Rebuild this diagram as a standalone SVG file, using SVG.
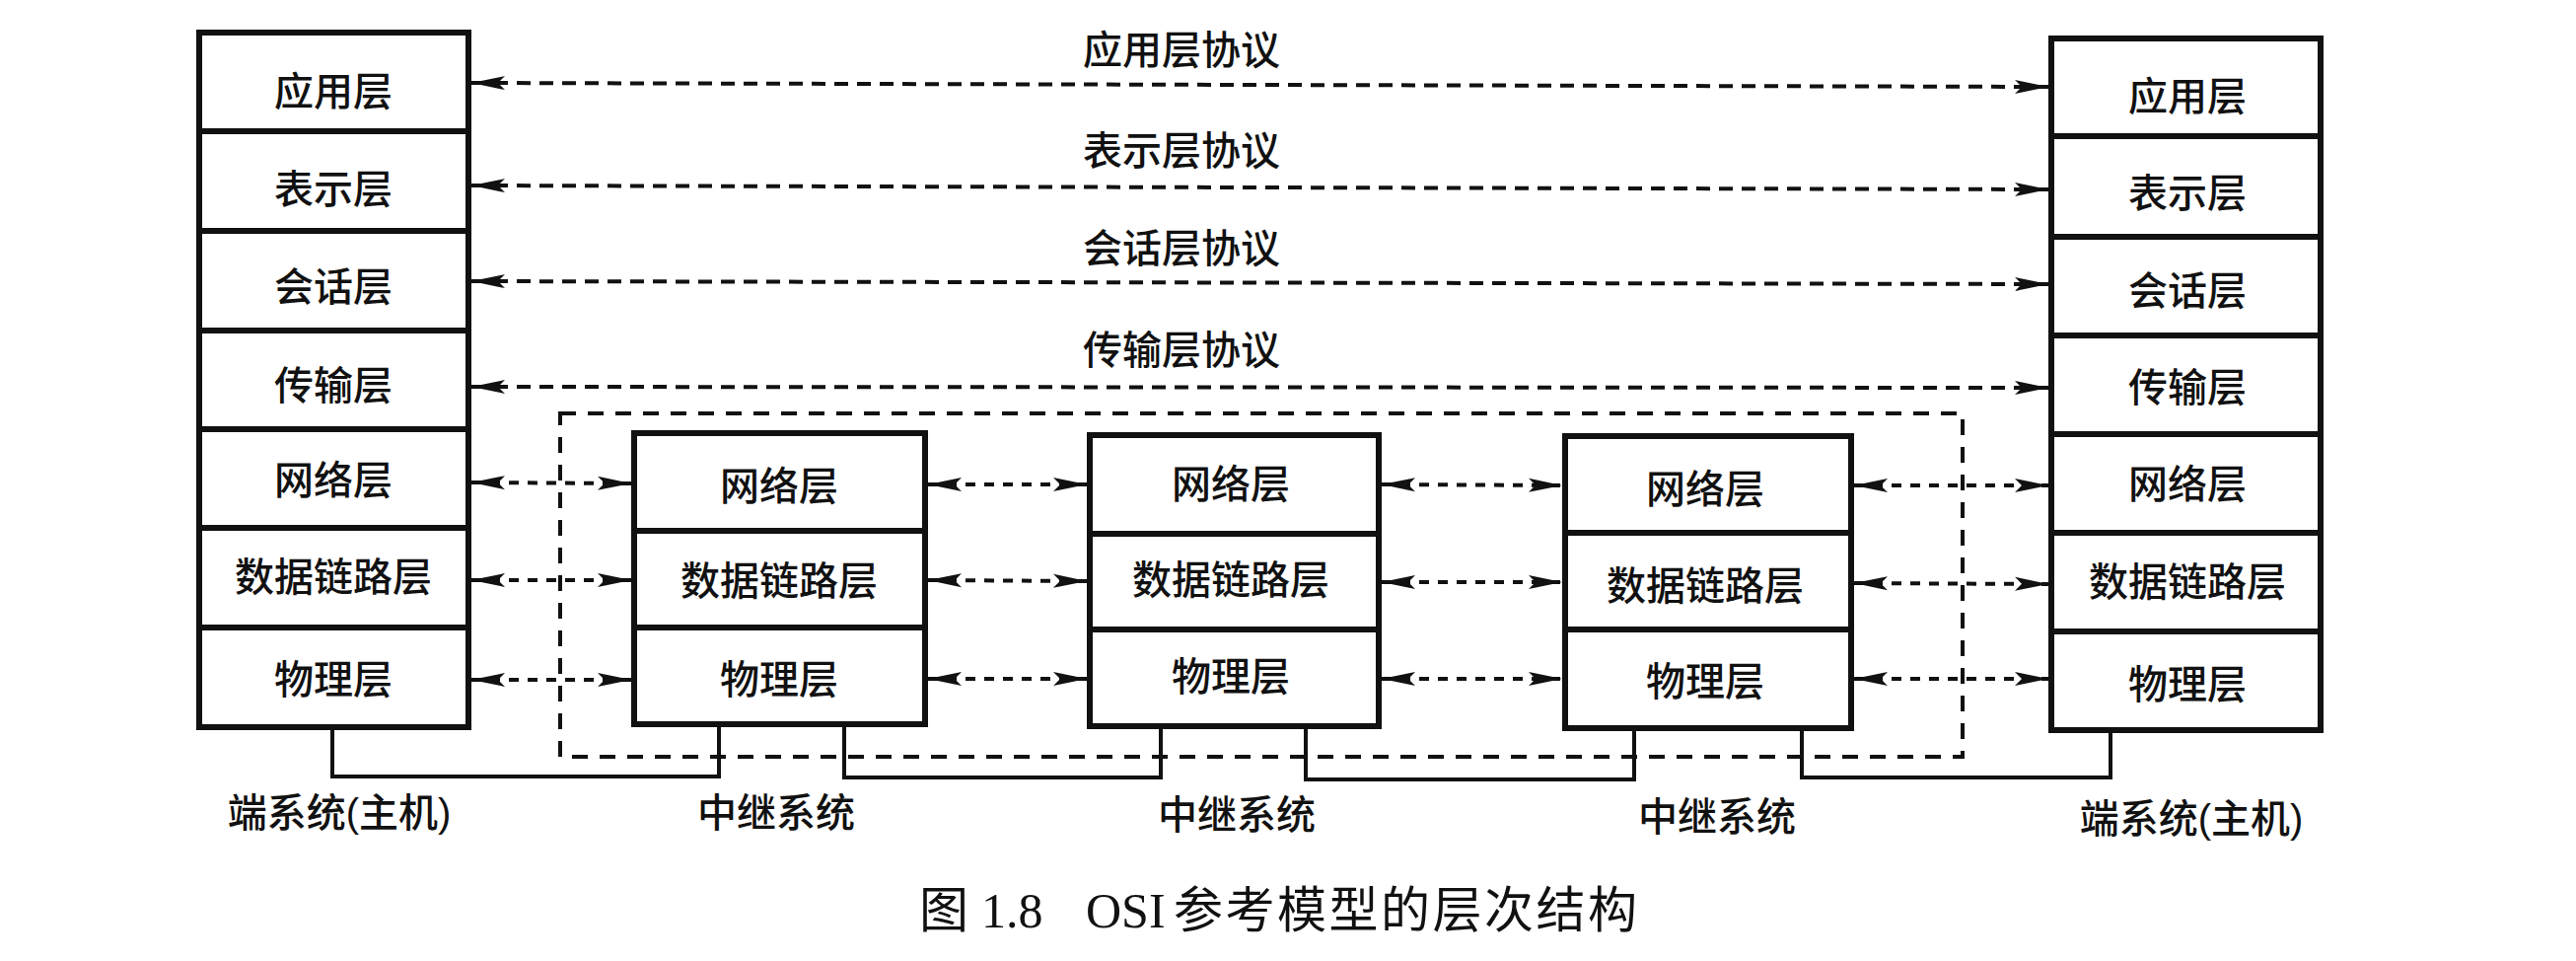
<svg xmlns="http://www.w3.org/2000/svg" width="2612" height="974" viewBox="0 0 2612 974">
<style>
.box{fill:#fff;stroke:#111;stroke-width:6}
.div{stroke:#111;stroke-width:6}
.t{font-family:"Liberation Sans","Noto Sans CJK SC",sans-serif;font-size:40px;font-weight:500;fill:#111;text-anchor:middle}
.proto{fill:none;stroke:#111;stroke-width:4;stroke-dasharray:14 9}
.layer{fill:none;stroke:#111;stroke-width:4;stroke-dasharray:10 9}
.wire{fill:none;stroke:#111;stroke-width:4}
.bound{fill:none;stroke:#111;stroke-width:4;stroke-dasharray:16 12}
.cap{font-size:50px;fill:#111}
</style>
<defs>
<marker id="ah" viewBox="0 0 34 16" refX="34" refY="8" markerWidth="34" markerHeight="16" markerUnits="userSpaceOnUse" orient="auto-start-reverse">
<path d="M0,1 L34,8 L0,15 L7,8 Z" fill="#111"/>
</marker>
</defs>
<rect width="2612" height="974" fill="#fff"/>

<g id="relay-boundary">
<rect class="bound" x="568" y="419" width="1422" height="348"/>
</g>

<g id="connectors">
<g id="protocol-arrows">
<line class="proto" x1="478" y1="84" x2="2077" y2="88" marker-start="url(#ah)" marker-end="url(#ah)"/>
<line class="proto" x1="478" y1="188" x2="2077" y2="192" marker-start="url(#ah)" marker-end="url(#ah)"/>
<line class="proto" x1="478" y1="285" x2="2077" y2="288" marker-start="url(#ah)" marker-end="url(#ah)"/>
<line class="proto" x1="478" y1="392" x2="2077" y2="393" marker-start="url(#ah)" marker-end="url(#ah)"/>
</g>
<g id="layer-arrows">
<line class="layer" x1="478" y1="489" x2="640" y2="490" marker-start="url(#ah)" marker-end="url(#ah)"/>
<line class="layer" x1="941" y1="491" x2="1102" y2="491" marker-start="url(#ah)" marker-end="url(#ah)"/>
<line class="layer" x1="1401" y1="491" x2="1584" y2="492" marker-start="url(#ah)" marker-end="url(#ah)"/>
<line class="layer" x1="1880" y1="492" x2="2077" y2="492" marker-start="url(#ah)" marker-end="url(#ah)"/>
<line class="layer" x1="478" y1="588" x2="640" y2="588" marker-start="url(#ah)" marker-end="url(#ah)"/>
<line class="layer" x1="941" y1="588" x2="1102" y2="589" marker-start="url(#ah)" marker-end="url(#ah)"/>
<line class="layer" x1="1401" y1="590" x2="1584" y2="590" marker-start="url(#ah)" marker-end="url(#ah)"/>
<line class="layer" x1="1880" y1="591" x2="2077" y2="592" marker-start="url(#ah)" marker-end="url(#ah)"/>
<line class="layer" x1="478" y1="689" x2="640" y2="689" marker-start="url(#ah)" marker-end="url(#ah)"/>
<line class="layer" x1="941" y1="688" x2="1102" y2="688" marker-start="url(#ah)" marker-end="url(#ah)"/>
<line class="layer" x1="1401" y1="688" x2="1584" y2="688" marker-start="url(#ah)" marker-end="url(#ah)"/>
<line class="layer" x1="1880" y1="688" x2="2077" y2="688" marker-start="url(#ah)" marker-end="url(#ah)"/>
</g>
<g id="physical-links">
<path class="wire" d="M337,739 V787 H729 V736"/>
<path class="wire" d="M856,736 V788 H1177 V738"/>
<path class="wire" d="M1324,738 V790 H1657 V740"/>
<path class="wire" d="M1827,740 V788 H2140 V742"/>
</g>
<g id="protocol-labels">
<text class="t" x="1198" y="65">应用层协议</text>
<text class="t" x="1198" y="167">表示层协议</text>
<text class="t" x="1198" y="266">会话层协议</text>
<text class="t" x="1198" y="369">传输层协议</text>
</g>
</g>

<g id="host-left">
<rect class="box" x="202" y="33" width="273" height="704"/>
<path class="div" d="M202,133 H475 M202,234 H475 M202,335 H475 M202,435 H475 M202,535 H475 M202,636 H475"/>
<text class="t" x="338" y="107">应用层</text>
<text class="t" x="338" y="206">表示层</text>
<text class="t" x="338" y="305">会话层</text>
<text class="t" x="338" y="405">传输层</text>
<text class="t" x="338" y="501">网络层</text>
<text class="t" x="338" y="599">数据链路层</text>
<text class="t" x="338" y="703">物理层</text>
<text class="t" x="344" y="838">端系统(主机)</text>
</g>

<g id="relay-1">
<rect class="box" x="643" y="439" width="295" height="295"/>
<path class="div" d="M643,538 H938 M643,636 H938"/>
<text class="t" x="790" y="507">网络层</text>
<text class="t" x="790" y="603">数据链路层</text>
<text class="t" x="790" y="703">物理层</text>
<text class="t" x="787" y="838">中继系统</text>
</g>

<g id="relay-2">
<rect class="box" x="1105" y="441" width="293" height="295"/>
<path class="div" d="M1105,541 H1398 M1105,638 H1398"/>
<text class="t" x="1248" y="505">网络层</text>
<text class="t" x="1248" y="602">数据链路层</text>
<text class="t" x="1248" y="700">物理层</text>
<text class="t" x="1254" y="840">中继系统</text>
</g>

<g id="relay-3">
<rect class="box" x="1587" y="442" width="290" height="296"/>
<path class="div" d="M1587,540 H1877 M1587,638 H1877"/>
<text class="t" x="1729" y="510">网络层</text>
<text class="t" x="1729" y="608">数据链路层</text>
<text class="t" x="1729" y="705">物理层</text>
<text class="t" x="1741" y="842">中继系统</text>
</g>

<g id="host-right">
<rect class="box" x="2080" y="39" width="273" height="701"/>
<path class="div" d="M2080,138 H2353 M2080,240 H2353 M2080,340 H2353 M2080,440 H2353 M2080,540 H2353 M2080,640 H2353"/>
<text class="t" x="2218" y="112">应用层</text>
<text class="t" x="2218" y="210">表示层</text>
<text class="t" x="2218" y="309">会话层</text>
<text class="t" x="2218" y="407">传输层</text>
<text class="t" x="2218" y="505">网络层</text>
<text class="t" x="2218" y="604">数据链路层</text>
<text class="t" x="2218" y="708">物理层</text>
<text class="t" x="2222" y="844">端系统(主机)</text>
</g>

<g id="caption">
<text class="cap" y="940" font-family="'Noto Sans CJK SC',sans-serif" x="932">图</text>
<text class="cap" y="940" font-family="'Liberation Serif',serif" font-size="50" x="995">1.8</text>
<text class="cap" y="940" font-family="'Liberation Serif',serif" font-size="48" x="1101">OSI</text>
<text class="cap" y="940" font-family="'Liberation Serif','Noto Sans CJK SC',serif" letter-spacing="2.5" x="1190">参考模型的层次结构</text>
</g>
</svg>
